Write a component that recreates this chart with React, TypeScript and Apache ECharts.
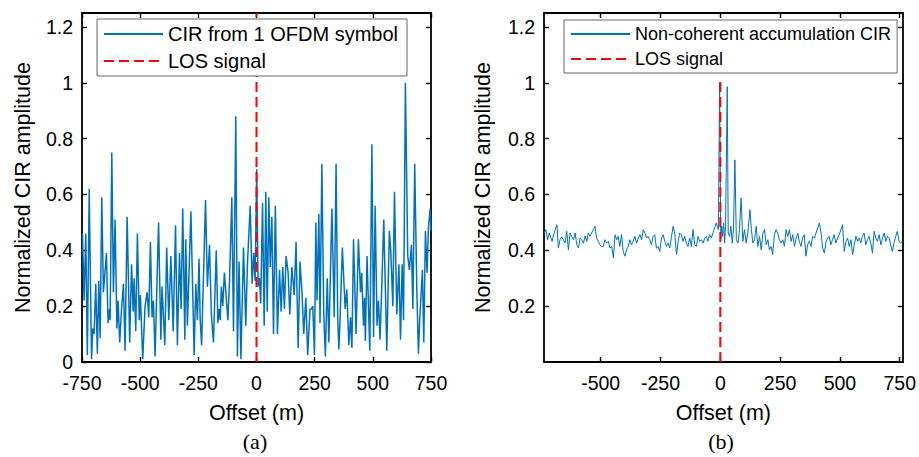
import React, { useEffect, useRef } from "react";
import * as echarts from "echarts";

// ---------- Data ----------
// (a) CIR from 1 OFDM symbol
const offsetA = [
  -748, -741, -734, -727, -719, -709, -704, -698, -691, -684, -678, -672, -665, -658, -645, -638, -632, -629,
  -622, -615, -608, -600, -595, -588, -580, -572, -565, -556, -545, -537, -530, -526, -519, -512, -504, -499,
  -489, -479, -470, -463, -456, -449, -443, -436, -421, -411, -406, -394, -386, -377, -368, -358, -348, -340,
  -331, -324, -317, -308, -304, -297, -282, -268, -261, -254, -247, -242, -236, -219, -211, -202, -194, -185,
  -173, -166, -161, -156, -151, -145, -138, -130, -123, -116, -106, -99, -89, -82, -75, -67, -56, -46, -39,
  -27, -19, -12, -6, 1, 7, 13, 18, 26, 33, 40, 46, 53, 59, 66, 73, 81, 90, 99, 106, 113, 120, 127, 136, 143,
  152, 162, 170, 179, 187, 196, 203, 212, 220, 230, 236, 242, 249, 255, 260, 268, 273, 281, 289, 296, 304,
  311, 324, 334, 342, 349, 354, 359, 369, 381, 388, 397, 404, 410, 417, 428, 438, 447, 452, 460, 464, 468,
  475, 487, 496, 503, 510, 518, 524, 531, 538, 547, 560, 571, 577, 586, 593, 603, 612, 619, 626, 632, 640,
  650, 657, 666, 672, 680, 689, 696, 702, 713, 719, 726, 733, 739, 746, 750,
];
const ampA = [
  0.46, 0.22, 0.46, 0.025, 0.62, 0.01, 0.12, 0.1, 0.28, 0.03, 0.29, 0.085, 0.59, 0.25, 0.39, 0.14, 0.19, 0.15,
  0.75, 0.25, 0.51, 0.12, 0.22, 0.07, 0.19, 0.28, 0.04, 0.52, 0.07, 0.35, 0.18, 0.3, 0.11, 0.46, 0.15, 0.24,
  0.01, 0.2, 0.25, 0.16, 0.43, 0.16, 0.22, 0.02, 0.5, 0.08, 0.27, 0.06, 0.41, 0.15, 0.38, 0.11, 0.49, 0.06,
  0.39, 0.19, 0.55, 0.08, 0.44, 0.13, 0.54, 0.025, 0.28, 0.15, 0.37, 0.15, 0.06, 0.58, 0.27, 0.42, 0.17, 0.07,
  0.4, 0.14, 0.19, 0.15, 0.27, 0.2, 0.32, 0.23, 0.15, 0.29, 0.59, 0.11, 0.88, 0.02, 0.36, 0.01, 0.41, 0.13, 0.35,
  0.56, 0.28, 0.39, 0.29, 0.69, 0.27, 0.3, 0.21, 0.57, 0.13, 0.61, 0.18, 0.59, 0.34, 0.52, 0.1, 0.56, 0.1, 0.33, 0.18, 0.34, 0.19, 0.38, 0.32, 0.17,
  0.34, 0.24, 0.43, 0.05, 0.36, 0.24, 0.1, 0.23, 0.025, 0.19, 0.19, 0.2, 0.025, 0.5, 0.22, 0.53, 0.14, 0.71, 0.17, 0.02, 0.3,
  0.07, 0.55, 0.16, 0.71, 0.16, 0.045, 0.15, 0.41, 0.19, 0.26, 0.06, 0.16, 0.05, 0.44, 0.1, 0.44, 0.25, 0.32, 0.13, 0.23, 0.075,
  0.38, 0.04, 0.78, 0.09, 0.56, 0.13, 0.22, 0.08, 0.26, 0.51, 0.04, 0.47, 0.4, 0.2, 0.61, 0.17, 0.35, 0.08, 0.35, 0.15, 1.0,
  0.38, 0.33, 0.42, 0.19, 0.71, 0.26, 0.03, 0.16, 0.33, 0.07, 0.47, 0.32, 0.48, 0.55, 0.47,
];

// (b) Non-coherent accumulation CIR
const offsetB = [
  -736, -729, -722, -715, -708, -703, -697, -690, -683, -677, -670, -663, -656, -649, -642, -635, -628, -621,
  -614, -607, -600, -593, -586, -579, -572, -565, -558, -552, -545, -538, -531, -524, -517, -510, -503, -496,
  -489, -482, -475, -468, -461, -454, -447, -440, -433, -427, -420, -413, -406, -399, -392, -385, -378, -371,
  -364, -357, -350, -343, -336, -329, -322, -315, -308, -302, -295, -288, -281, -274, -267, -260, -253, -246,
  -239, -232, -225, -218, -211, -204, -197, -190, -183, -176, -170, -163, -156, -149, -142, -135, -128, -121,
  -114, -107, -100, -93, -86, -79, -72, -65, -58, -52, -45, -38, -31, -24, -17, -13, -8, -3, 2, 6, 10, 14, 18,
  22, 29, 33, 39, 44, 50, 55, 61, 67, 74, 80, 87, 94, 101, 108, 115, 124, 130, 136, 143, 150, 157, 164, 171,
  178, 185, 192, 199, 205, 212, 219, 226, 233, 240, 247, 254, 261, 268, 275, 282, 289, 296, 303, 310, 317,
  324, 330, 337, 344, 351, 358, 365, 372, 379, 386, 393, 400, 407, 414, 421, 428, 435, 442, 449, 455, 462,
  469, 476, 483, 490, 497, 504, 511, 518, 525, 532, 539, 546, 553, 560, 567, 574, 581, 587, 594, 601, 608,
  615, 622, 629, 636, 643, 650, 657, 664, 671, 678, 685, 692, 699, 706, 712, 719, 726, 733, 740, 747, 754, 762,
];
const ampB = [
  0.462, 0.474, 0.438, 0.462, 0.444, 0.432, 0.456, 0.474, 0.492, 0.408, 0.438, 0.448, 0.438, 0.426, 0.468, 0.402, 0.462, 0.45,
  0.438, 0.462, 0.42, 0.408, 0.444, 0.438, 0.426, 0.452, 0.432, 0.462, 0.45, 0.462, 0.474, 0.486, 0.444, 0.432, 0.42, 0.414,
  0.414, 0.438, 0.426, 0.432, 0.408, 0.414, 0.373, 0.456, 0.438, 0.45, 0.414, 0.456, 0.396, 0.379, 0.402, 0.414, 0.438, 0.42,
  0.432, 0.45, 0.426, 0.444, 0.456, 0.438, 0.474, 0.462, 0.444, 0.45, 0.438, 0.42, 0.45, 0.456, 0.408, 0.414, 0.396, 0.444,
  0.456, 0.432, 0.414, 0.426, 0.408, 0.45, 0.486, 0.456, 0.385, 0.432, 0.462, 0.456, 0.432, 0.45, 0.426, 0.414, 0.444, 0.414,
  0.474, 0.42, 0.414, 0.45, 0.432, 0.438, 0.426, 0.444, 0.45, 0.432, 0.456, 0.444, 0.462, 0.48, 0.498, 0.486, 0.474, 1.0, 0.44, 0.486, 0.45, 0.498, 0.426,
  0.486, 0.986, 0.462, 0.45, 0.486, 0.426, 0.474, 0.724, 0.438, 0.426, 0.474, 0.587, 0.432, 0.474, 0.426, 0.462, 0.545, 0.474, 0.426, 0.438, 0.486, 0.414, 0.45, 0.402,
  0.462, 0.474, 0.42, 0.438, 0.402, 0.414, 0.385, 0.456, 0.474, 0.462, 0.438, 0.426, 0.438, 0.414, 0.474, 0.45, 0.474, 0.432, 0.456, 0.414, 0.444,
  0.462, 0.432, 0.414, 0.444, 0.456, 0.379, 0.42, 0.432, 0.414, 0.45, 0.444, 0.462, 0.48, 0.498, 0.462, 0.408, 0.39, 0.432, 0.444, 0.45, 0.42,
  0.438, 0.456, 0.426, 0.444, 0.456, 0.474, 0.492, 0.396, 0.432, 0.444, 0.414, 0.438, 0.385, 0.42, 0.45, 0.432, 0.444, 0.426, 0.45, 0.462, 0.42,
  0.438, 0.45, 0.426, 0.39, 0.468, 0.444, 0.432, 0.456, 0.42, 0.444, 0.462, 0.432, 0.45, 0.444, 0.42, 0.396, 0.426, 0.45, 0.468, 0.432, 0.426, 0.43,
];

const losA = [[0, 0], [0, 1.25]];
const losB = [[0, 0], [0, 1.01]];

const xTicksA = [-750, -500, -250, 0, 250, 500, 750];
const xTicksB = [-500, -250, 0, 250, 500, 750];
const yTicksA = [0, 0.2, 0.4, 0.6, 0.8, 1, 1.2];
const yTicksB = [0.2, 0.4, 0.6, 0.8, 1, 1.2];

const NAME_A = "CIR from 1 OFDM symbol";
const NAME_B = "Non-coherent accumulation CIR";
const NAME_LOS = "LOS signal";

const FONT = "'Liberation Sans', Arial, Helvetica, sans-serif";
const BLUE = "#0072BD";
const RED = "#FF0000";

function frameAxes(grid: number, min: number, max: number, ticks: number[], isX: boolean, name: string, nameGap: number) {
  const line = { show: true, onZero: false, lineStyle: { color: "#000", width: 1.8 } };
  const main: any = {
    type: "value",
    gridIndex: grid,
    min,
    max,
    position: isX ? "bottom" : "left",
    axisLine: line,
    axisTick: { show: true, inside: true, length: 5, customValues: ticks, lineStyle: { color: "#000", width: 1.4 } },
    axisLabel: { show: true, customValues: ticks, color: "#000", fontFamily: FONT, fontSize: 19.5, margin: isX ? 11 : 9 },
    splitLine: { show: false },
    name,
    nameLocation: "middle",
    nameGap,
    nameTextStyle: { color: "#000", fontFamily: FONT, fontSize: 21.5 },
  };
  const opp: any = {
    type: "value",
    gridIndex: grid,
    min,
    max,
    position: isX ? "top" : "right",
    axisLine: line,
    axisTick: { show: true, inside: true, length: 5, customValues: ticks, lineStyle: { color: "#000", width: 1.4 } },
    axisLabel: { show: false },
    splitLine: { show: false },
  };
  return [main, opp];
}

export default function App() {
  const ref = useRef<HTMLDivElement>(null);
  useEffect(() => {
    if (!ref.current) return;
    const chart = echarts.init(ref.current, null, { renderer: "svg" });
    const dataA = offsetA.map((x, i) => [x, ampA[i]]);
    const dataB = offsetB.map((x, i) => [x, ampB[i]]);
    const [xa0, xa1] = frameAxes(0, -750, 750, xTicksA, true, "Offset (m)", 40);
    const [ya0, ya1] = frameAxes(0, 0, 1.25, yTicksA, false, "Normalized CIR amplitude", 48);
    const [xb0, xb1] = frameAxes(1, -737, 763, xTicksB, true, "Offset (m)", 40);
    const [yb0, yb1] = frameAxes(1, 0, 1.25, yTicksB, false, "Normalized CIR amplitude", 50);
    const legendBase = {
      orient: "vertical",
      backgroundColor: "#fff",
      borderColor: "#666",
      borderWidth: 1,
      borderRadius: 0,
      itemWidth: 59,
      itemHeight: 14,
      itemGap: 7,
      selectedMode: false,
      itemStyle: { color: "transparent", borderWidth: 0, opacity: 0 },
      z: 10,
    };
    chart.setOption({
      animation: false,
      backgroundColor: "#fff",
      grid: [
        { left: 82, top: 13, width: 349, height: 349, containLabel: false },
        { left: 544, top: 13, width: 359, height: 349, containLabel: false },
      ],
      xAxis: [xa0, xa1, xb0, xb1],
      yAxis: [ya0, ya1, yb0, yb1],
      legend: [
        {
          ...legendBase,
          left: 97,
          top: 19,
          padding: [5, 9, 5, 6],
          data: [NAME_A, NAME_LOS],
          textStyle: { color: "#000", fontFamily: FONT, fontSize: 20 },
        },
        {
          ...legendBase,
          left: 564,
          top: 20,
          padding: [5, 6, 5, 6],
          data: [NAME_B, NAME_LOS],
          textStyle: { color: "#000", fontFamily: FONT, fontSize: 18 },
        },
      ],
      graphic: [
        { type: "text", x: 255, y: 441, style: { text: "(a)", fontFamily: "'Liberation Serif', 'Times New Roman', serif", fontSize: 22, fill: "#000", textAlign: "center", textVerticalAlign: "middle" } },
        { type: "text", x: 721, y: 441, style: { text: "(b)", fontFamily: "'Liberation Serif', 'Times New Roman', serif", fontSize: 22, fill: "#000", textAlign: "center", textVerticalAlign: "middle" } },
      ],
      series: [
        {
          name: NAME_A,
          type: "line",
          xAxisIndex: 0,
          yAxisIndex: 0,
          data: dataA,
          symbol: "none",
          showSymbol: false,
          lineStyle: { color: BLUE, width: 1.5 },
          itemStyle: { color: BLUE },
          z: 2,
        },
        {
          name: NAME_LOS,
          type: "line",
          xAxisIndex: 0,
          yAxisIndex: 0,
          data: losA,
          symbol: "none",
          showSymbol: false,
          lineStyle: { color: RED, width: 2, type: [10, 5] },
          itemStyle: { color: RED },
          z: 3,
        },
        {
          name: NAME_B,
          type: "line",
          xAxisIndex: 2,
          yAxisIndex: 2,
          data: dataB,
          symbol: "none",
          showSymbol: false,
          lineStyle: { color: BLUE, width: 1 },
          itemStyle: { color: BLUE },
          z: 2,
        },
        {
          name: NAME_LOS,
          type: "line",
          xAxisIndex: 2,
          yAxisIndex: 2,
          data: losB,
          symbol: "none",
          showSymbol: false,
          lineStyle: { color: RED, width: 2, type: [10, 5] },
          itemStyle: { color: RED },
          z: 3,
        },
      ],
    });
    return () => chart.dispose();
  }, []);
  return <div ref={ref} style={{ position: "absolute", left: 0, top: 0, width: 919, height: 457 }} />;
}
